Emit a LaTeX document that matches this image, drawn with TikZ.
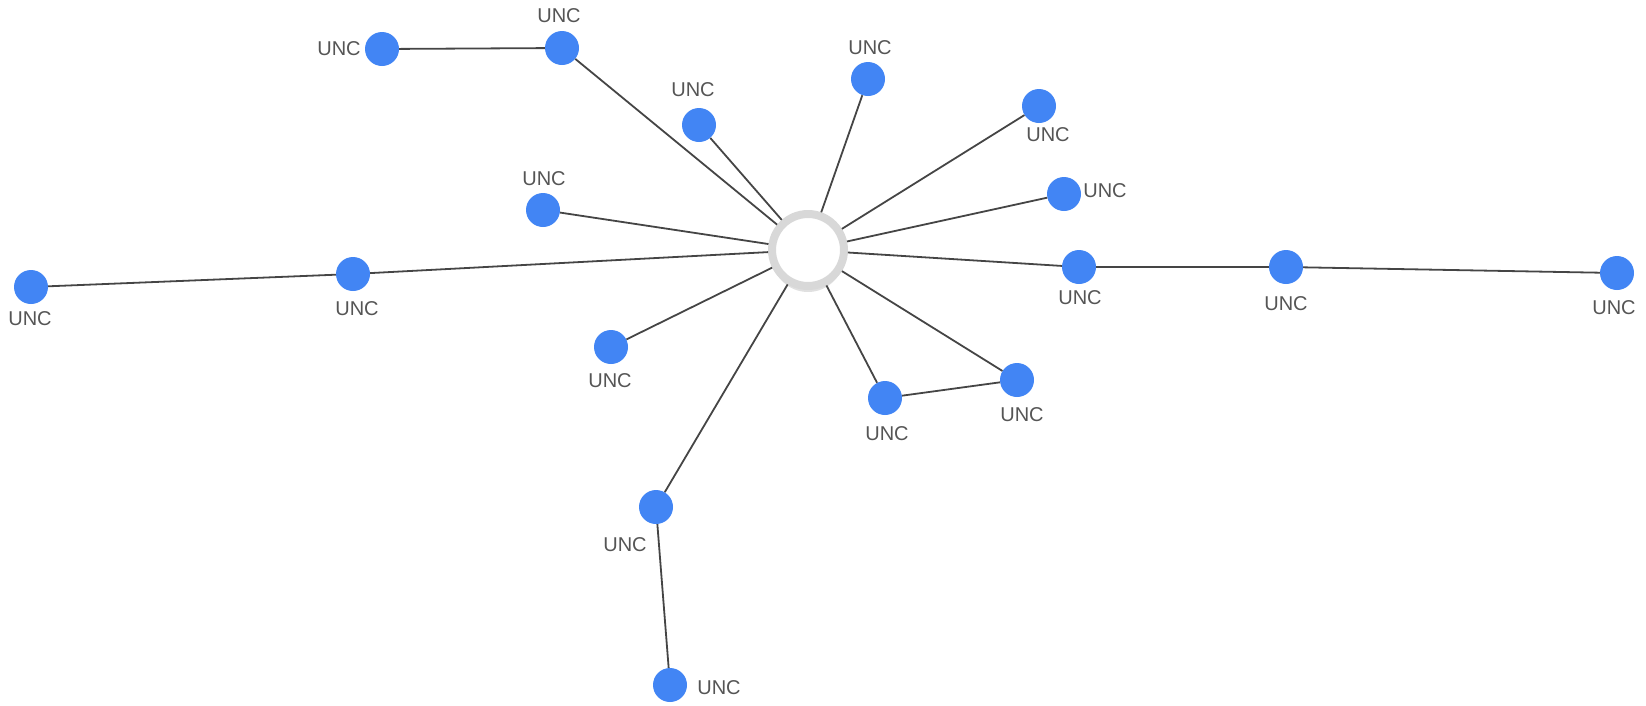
\documentclass[tikz,border=0pt]{standalone}
\usepackage{fontspec}
\setmainfont{Liberation Sans}
\usetikzlibrary{shadows}
\definecolor{nodeblue}{HTML}{4285F4}
\definecolor{edgegray}{HTML}{454545}
\definecolor{labgray}{HTML}{555555}
\definecolor{ringgray}{HTML}{D8D8D8}
\tikzset{
  unc/.style={circle,fill=nodeblue,draw=none,minimum size=34pt,inner sep=0pt},
  hub/.style={circle,fill=white,draw=ringgray,line width=8pt,minimum size=72pt,inner sep=0pt,
    drop shadow={shadow xshift=0pt,shadow yshift=-6pt,fill=black!20,opacity=0.6}},
  lab/.style={text=labgray,font=\fontsize{20}{22}\selectfont,inner sep=0pt},
  edge/.style={draw=edgegray,line width=1.8pt}
}
\begin{document}
\begin{tikzpicture}[x=1pt,y=-1pt]
\useasboundingbox (0,0) rectangle (1646,705);
\node[hub] (c) at (808,250) {};
\node[unc] (n1) at (382,49) {};
\node[unc] (n2) at (562,48) {};
\node[unc] (n3) at (699,125) {};
\node[unc] (n4) at (868,79) {};
\node[unc] (n5) at (1039,106) {};
\node[unc] (n6) at (1064,194) {};
\node[unc] (n7) at (543,210) {};
\node[unc] (n8) at (353,274) {};
\node[unc] (n9) at (31,287) {};
\node[unc] (n10) at (1079,267) {};
\node[unc] (n11) at (1286,267) {};
\node[unc] (n12) at (1617,273) {};
\node[unc] (n13) at (611,347) {};
\node[unc] (n14) at (885,398) {};
\node[unc] (n15) at (1017,380) {};
\node[unc] (n16) at (656,507) {};
\node[unc] (n17) at (670,685) {};
\node[lab] (l1) at (339,49) {UNC};
\node[lab] (l2) at (559,16) {UNC};
\node[lab] (l3) at (693,90) {UNC};
\node[lab] (l4) at (870,48) {UNC};
\node[lab] (l5) at (1048,135) {UNC};
\node[lab] (l6) at (1105,191) {UNC};
\node[lab] (l7) at (544,179) {UNC};
\node[lab] (l8) at (357,309) {UNC};
\node[lab] (l9) at (30,319) {UNC};
\node[lab] (l10) at (1080,298) {UNC};
\node[lab] (l11) at (1286,304) {UNC};
\node[lab] (l12) at (1614,308) {UNC};
\node[lab] (l13) at (610,381) {UNC};
\node[lab] (l14) at (887,434) {UNC};
\node[lab] (l15) at (1022,415) {UNC};
\node[lab] (l16) at (625,545) {UNC};
\node[lab] (l17) at (719,688) {UNC};
\foreach \n in {n2,n3,n4,n5,n6,n7,n8,n10,n13,n14,n15,n16}
  \draw[edge] (c) -- (\n);
\draw[edge] (n1) -- (n2);
\draw[edge] (n8) -- (n9);
\draw[edge] (n10) -- (n11);
\draw[edge] (n11) -- (n12);
\draw[edge] (n14) -- (n15);
\draw[edge] (n16) -- (n17);
\end{tikzpicture}
\end{document}
